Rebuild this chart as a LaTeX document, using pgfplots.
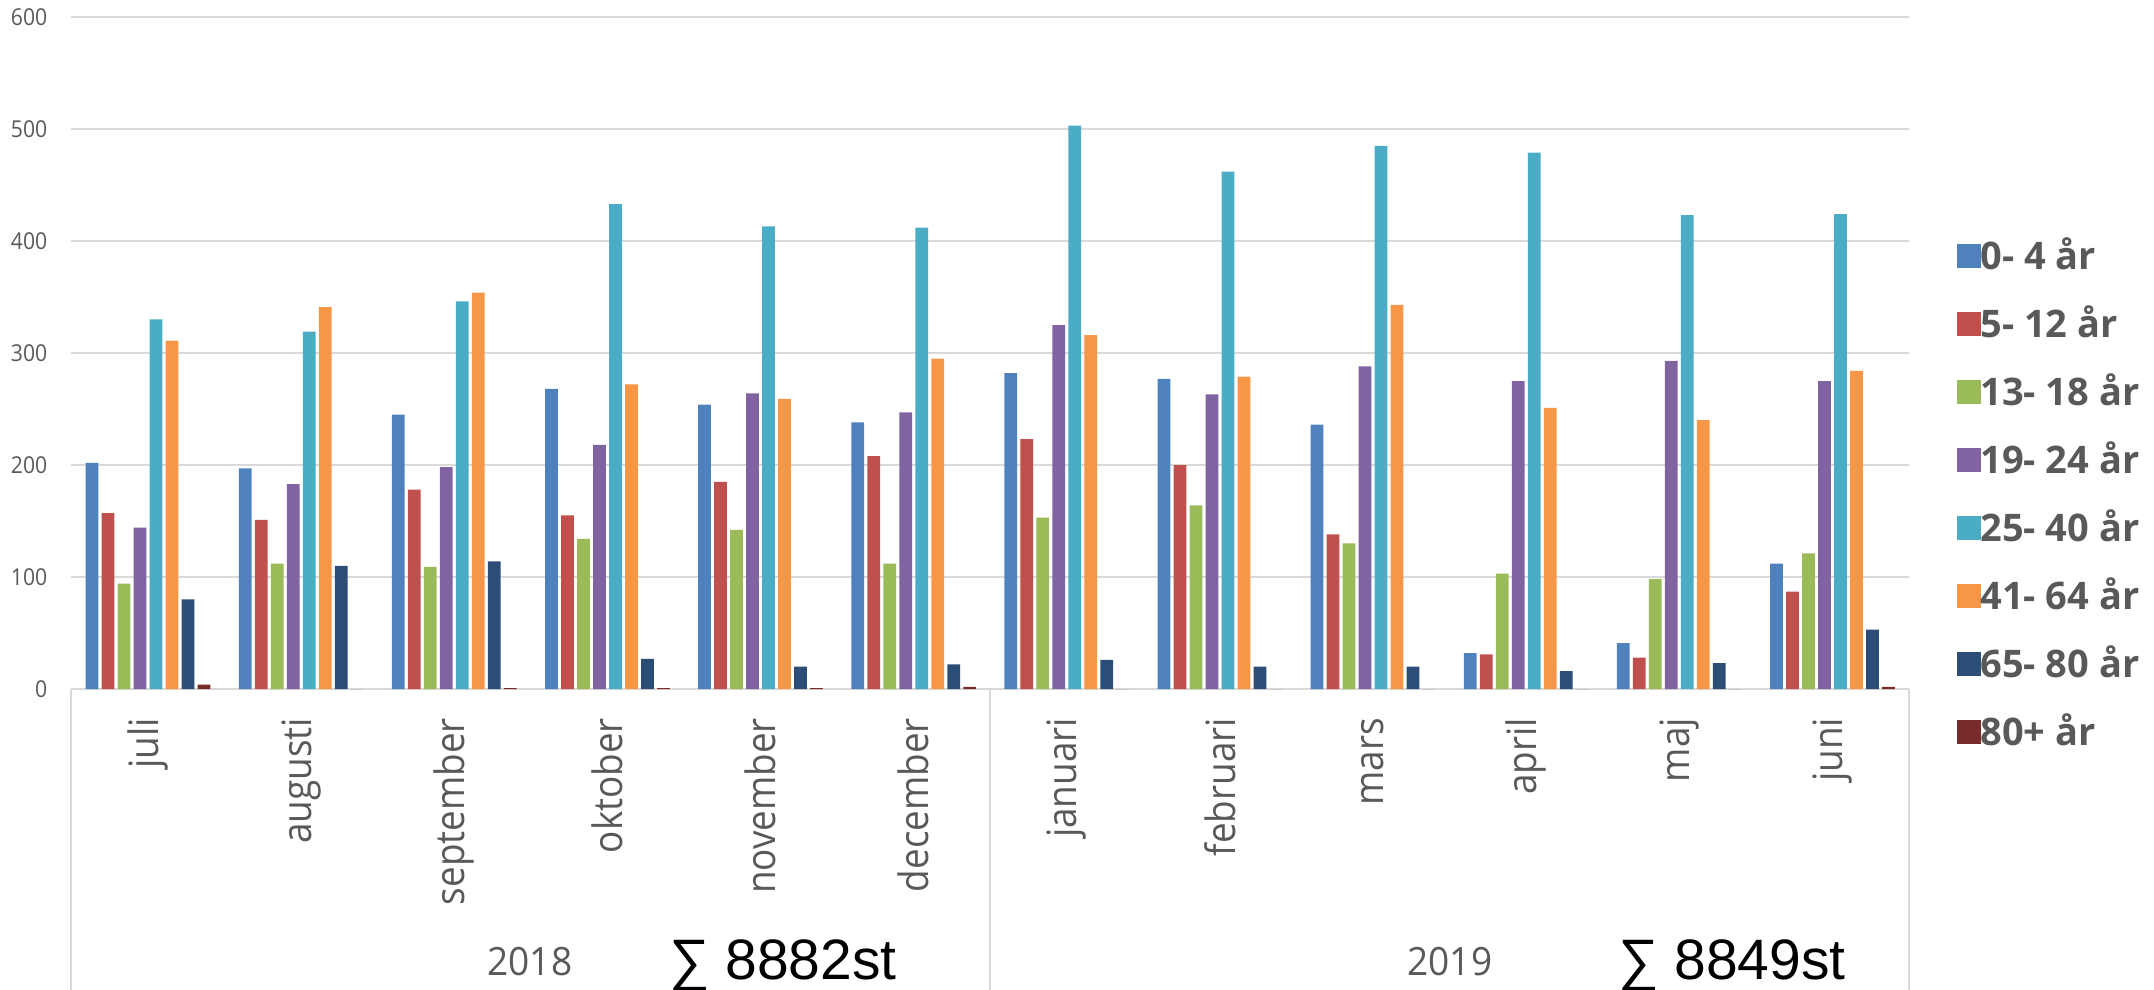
\documentclass[border=0pt]{standalone}
\usepackage{fontspec}
\setmainfont{Open Sans}
\newfontfamily\osn[FakeStretch=0.91]{Open Sans}
\newfontfamily\osy[FakeStretch=0.95]{Open Sans}
\newfontfamily\arialf{Liberation Sans}
\usepackage{pgfplots}
\pgfplotsset{compat=1.18}
\definecolor{c1}{HTML}{4F81BD}
\definecolor{c2}{HTML}{C0504D}
\definecolor{c3}{HTML}{9BBB59}
\definecolor{c4}{HTML}{8064A2}
\definecolor{c5}{HTML}{4BACC6}
\definecolor{c6}{HTML}{F79646}
\definecolor{c7}{HTML}{2C4D75}
\definecolor{c8}{HTML}{772C2A}
\definecolor{textgray}{HTML}{595959}
\definecolor{gridgray}{HTML}{D9D9D9}
\begin{document}
\begin{tikzpicture}
\path[use as bounding box] (0,0) rectangle (861.6pt,-396pt);
\begin{axis}[
  at={(28.6pt,-275.6pt)}, anchor=south west,
  scale only axis, width=735pt, height=268.8pt,
  xmin=-0.5, xmax=11.5, ymin=0, ymax=600,
  ytick={0,100,...,600},
  xtick={0,...,11},
  xticklabels={juli,augusti,september,oktober,november,december,januari,februari,mars,april,maj,juni},
  axis lines*=left,
  y axis line style={draw=none},
  x axis line style={draw=gridgray, line width=0.8pt},
  ymajorgrids, grid style={draw=gridgray, line width=0.6pt},
  major tick length=0pt,
  tick style={draw=none},
  /pgf/number format/assume math mode=true,
  yticklabel style={font=\osn\fontsize{9.3}{9.3}\selectfont, text=textgray, inner sep=0pt, xshift=-9.5pt},
  xticklabel style={font=\osn\fontsize{16.2}{16.2}\selectfont, text=textgray, rotate=90, anchor=east, inner sep=0pt},
  xticklabel shift=11.4pt,
  extra x ticks={-0.5,5.5,11.5},
  extra x tick labels={},
  extra x tick style={major tick length=120.4pt, tick align=outside, tick style={draw=gridgray, line width=0.8pt}, grid=none},
  bar width=0.0836,
  clip=false,
  legend cell align=left,
  legend image code/.code={\fill[#1] (0pt,-4.8pt) rectangle (9.6pt,4.8pt);},
  legend style={at={(1.02558,0.669)}, anchor=north west, draw=none, fill=none, inner sep=0pt,
    row sep=14pt, font=\bfseries\fontsize{15.2}{15.2}\selectfont, text=textgray,
    nodes={inner sep=0pt, text height=12pt, text depth=1.2pt},
    /tikz/every even column/.append style={column sep=4pt}},
]
\addplot[ybar, bar shift=-0.3658, fill=c1, draw=none] coordinates {(0,202) (1,197) (2,245) (3,268) (4,254) (5,238) (6,282) (7,277) (8,236) (9,32) (10,41) (11,112)};
\addplot[ybar, bar shift=-0.2613, fill=c2, draw=none] coordinates {(0,157) (1,151) (2,178) (3,155) (4,185) (5,208) (6,223) (7,200) (8,138) (9,31) (10,28) (11,87)};
\addplot[ybar, bar shift=-0.1568, fill=c3, draw=none] coordinates {(0,94) (1,112) (2,109) (3,134) (4,142) (5,112) (6,153) (7,164) (8,130) (9,103) (10,98) (11,121)};
\addplot[ybar, bar shift=-0.0523, fill=c4, draw=none] coordinates {(0,144) (1,183) (2,198) (3,218) (4,264) (5,247) (6,325) (7,263) (8,288) (9,275) (10,293) (11,275)};
\addplot[ybar, bar shift=0.0523, fill=c5, draw=none] coordinates {(0,330) (1,319) (2,346) (3,433) (4,413) (5,412) (6,503) (7,462) (8,485) (9,479) (10,423) (11,424)};
\addplot[ybar, bar shift=0.1568, fill=c6, draw=none] coordinates {(0,311) (1,341) (2,354) (3,272) (4,259) (5,295) (6,316) (7,279) (8,343) (9,251) (10,240) (11,284)};
\addplot[ybar, bar shift=0.2613, fill=c7, draw=none] coordinates {(0,80) (1,110) (2,114) (3,27) (4,20) (5,22) (6,26) (7,20) (8,20) (9,16) (10,23) (11,53)};
\addplot[ybar, bar shift=0.3658, fill=c8, draw=none] coordinates {(0,4) (1,0) (2,0.7) (3,0.7) (4,0.7) (5,2) (6,0) (7,0) (8,0) (9,0) (10,0) (11,2)};
\legend{0- 4 år,5- 12 år,13- 18 år,19- 24 år,25- 40 år,41- 64 år,65- 80 år,80+ år}
\node[anchor=base, font=\osy\fontsize{15.6}{15.6}\selectfont, text=textgray] at ([yshift=-114.4pt]axis cs:2.494,0) {2018};
\node[anchor=base, font=\osy\fontsize{15.6}{15.6}\selectfont, text=textgray] at ([yshift=-114.4pt]axis cs:8.502,0) {2019};
\node[anchor=base, font=\arialf\fontsize{22.8}{22.8}\selectfont] at ([yshift=-116pt]axis cs:4.146,0) {∑ 8882st};
\node[anchor=base, font=\arialf\fontsize{22.8}{22.8}\selectfont] at ([yshift=-116pt]axis cs:10.343,0) {∑ 8849st};
\end{axis}
\end{tikzpicture}
\end{document}
